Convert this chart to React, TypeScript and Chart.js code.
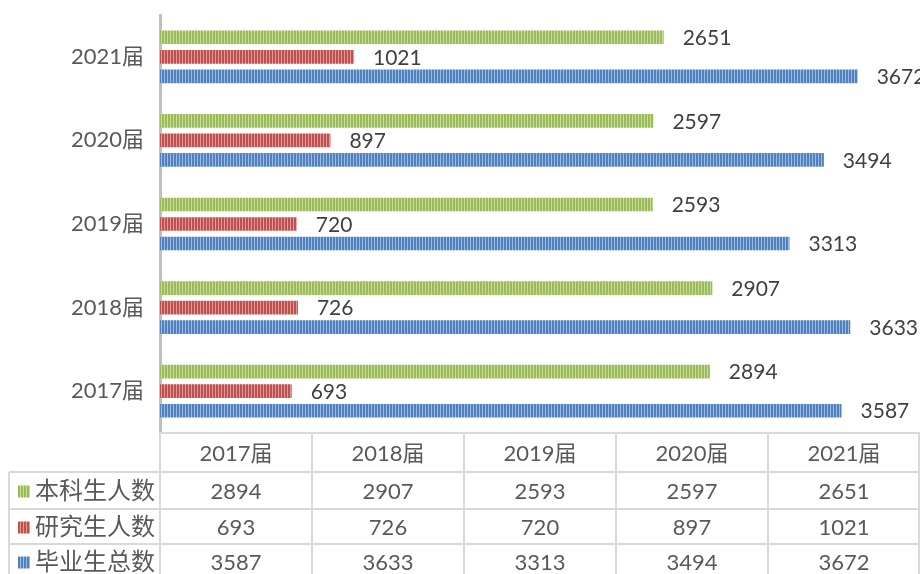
import React, { useEffect, useRef } from "react";
import { Chart, registerables } from "chart.js";

Chart.register(...registerables);

const categories = ["2017届", "2018届", "2019届", "2020届", "2021届"];
const seriesNames = ["本科生人数", "研究生人数", "毕业生总数"];
const undergrad = [2894, 2907, 2593, 2597, 2651];
const graduate = [693, 726, 720, 897, 1021];
const total = [3587, 3633, 3313, 3494, 3672];
const baseColors = ["#9BBB59", "#C0504D", "#4F81BD"];
const stripeColors = ["#C9DC9F", "#DC9A98", "#9DBBE0"];

const FONT = "Lato, 'Noto Sans CJK SC', sans-serif";

function makePattern(base: string, stripe: string): CanvasPattern | string {
  const c = document.createElement("canvas");
  c.width = 3;
  c.height = 4;
  const g = c.getContext("2d");
  if (!g) return base;
  g.fillStyle = base;
  g.fillRect(0, 0, 3, 4);
  g.fillStyle = stripe;
  g.fillRect(2, 0, 1, 4);
  const p = g.createPattern(c, "repeat");
  return p || base;
}

export default function App() {
  const ref = useRef<HTMLCanvasElement | null>(null);
  useEffect(() => {
    document.body.style.margin = "0";
    const canvas = ref.current;
    if (!canvas) return;
    const patterns = baseColors.map((b, i) => makePattern(b, stripeColors[i]));
    const seriesData = [undergrad, graduate, total];

    const labelsPlugin = {
      id: "valueLabels",
      afterDatasetsDraw(chart: any) {
        const ctx = chart.ctx;
        ctx.save();
        ctx.font = `21px ${FONT}`;
        ctx.fillStyle = "#404040";
        ctx.textAlign = "left";
        ctx.textBaseline = "middle";
        chart.data.datasets.forEach((ds: any, di: number) => {
          const meta = chart.getDatasetMeta(di);
          meta.data.forEach((bar: any, i: number) => {
            ctx.fillText(String(ds.data[i]), bar.x + 19, bar.y + 1);
          });
        });
        ctx.restore();
      },
    };

    const tablePlugin = {
      id: "dataTable",
      afterDraw(chart: any) {
        const ctx = chart.ctx;
        const area = chart.chartArea;
        const top = area.bottom;
        const colW = (area.right - area.left) / categories.length;
        const rows = [top, top + 39, top + 76, top + 111, top + 146];
        const leftEdge = 9;
        ctx.save();
        ctx.strokeStyle = "#D9D9D9";
        ctx.lineWidth = 2;
        ctx.beginPath();
        ctx.moveTo(area.left, rows[0]);
        ctx.lineTo(area.right, rows[0]);
        for (let r = 1; r < rows.length - 1; r++) {
          ctx.moveTo(leftEdge, rows[r]);
          ctx.lineTo(area.right, rows[r]);
        }
        for (let c = 0; c <= categories.length; c++) {
          const x = Math.min(area.left + c * colW, area.right - 1);
          ctx.moveTo(x, rows[0]);
          ctx.lineTo(x, rows[rows.length - 1]);
        }
        ctx.moveTo(leftEdge, rows[1]);
        ctx.lineTo(leftEdge, rows[rows.length - 1]);
        ctx.stroke();

        ctx.fillStyle = "#595959";
        ctx.textAlign = "center";
        ctx.textBaseline = "middle";
        ctx.font = `22px ${FONT}`;
        categories.forEach((cat, c) => {
          ctx.fillText(cat, area.left + (c + 0.5) * colW, (rows[0] + rows[1]) / 2 + 1);
        });
        seriesNames.forEach((name, r) => {
          const cy = (rows[r + 1] + rows[r + 2]) / 2 + 1;
          seriesData[r].forEach((v, c) => {
            ctx.fillStyle = "#595959";
            ctx.font = `22px ${FONT}`;
            ctx.textAlign = "center";
            ctx.fillText(String(v), area.left + (c + 0.5) * colW, cy);
          });
          ctx.fillStyle = patterns[r] as any;
          ctx.fillRect(18, cy - 6, 12, 12);
          ctx.fillStyle = "#595959";
          ctx.font = `24px ${FONT}`;
          ctx.textAlign = "left";
          ctx.fillText(name, 35, cy);
        });
        ctx.restore();
      },
    };

    const chart = new Chart(canvas, {
      type: "bar",
      data: {
        labels: categories,
        datasets: seriesNames.map((name, i) => ({
          label: name,
          data: seriesData[i],
          backgroundColor: patterns[i] as any,
          borderWidth: 0,
          barPercentage: 0.7,
          categoryPercentage: 0.7,
        })),
      },
      options: {
        indexAxis: "y",
        animation: false,
        responsive: false,
        maintainAspectRatio: false,
        layout: { padding: { top: 15, bottom: 141, left: 0, right: 0 } },
        plugins: {
          legend: { display: false },
          tooltip: { enabled: false },
        },
        scales: {
          x: { display: false, min: 0, max: 4000 },
          y: {
            reverse: true,
            grid: { display: false, drawTicks: false },
            border: { display: true, color: "#BFBFBF", width: 3 },
            ticks: {
              color: "#595959",
              font: { size: 22, family: FONT },
              padding: 16,
            },
            afterFit(scale: any) {
              scale.width = 160;
              scale.paddingTop = 0;
              scale.paddingBottom = 0;
            },
          },
        },
      },
      plugins: [labelsPlugin, tablePlugin],
    } as any);
    return () => chart.destroy();
  }, []);
  return (
    <div style={{ width: 920, height: 574, background: "#fff" }}>
      <canvas ref={ref} width={920} height={574} style={{ display: "block" }} />
    </div>
  );
}
